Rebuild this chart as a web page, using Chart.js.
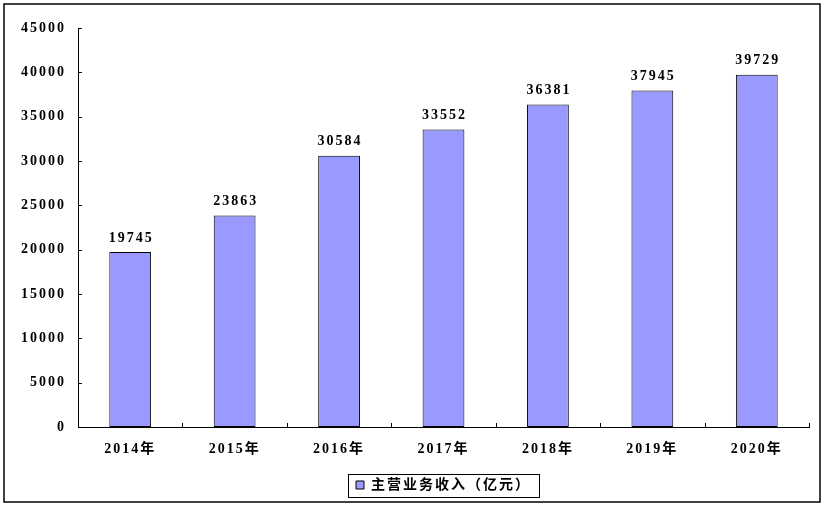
<!DOCTYPE html>
<html>
<head>
<meta charset="utf-8">
<script src="https://cdn.jsdelivr.net/npm/chart.js@4/dist/chart.umd.min.js"></script>
<style>
html, body { margin: 0; padding: 0; background: #fff; }
#wrap { width: 829px; height: 508px; }
</style>
</head>
<body>
<div id="wrap"><canvas id="barchart"></canvas></div>
<script>
const YEARS = ["2014年", "2015年", "2016年", "2017年", "2018年", "2019年", "2020年"];
const REVENUE = [19745, 23863, 30584, 33552, 36381, 37945, 39729];
const SERIES_NAME = "主营业务收入（亿元）";
const Y_MAX = 45000;
const Y_STEP = 5000;

const FONT = { family: "'Liberation Serif', 'Noto Sans CJK SC', serif", size: 14, weight: 'bold' };
Chart.defaults.font = FONT;
Chart.defaults.color = '#000';

// wide character spacing like the original
const spacing = {
    id: 'spacing',
    beforeUpdate(chart) { chart.ctx.letterSpacing = '2px'; },
    beforeDraw(chart) { chart.ctx.letterSpacing = '2px'; }
};

// value above each bar
const valueLabels = {
    id: 'valueLabels',
    afterDatasetsDraw(chart) {
        const ctx = chart.ctx;
        const meta = chart.getDatasetMeta(0);
        ctx.save();
        ctx.font = "bold 14px 'Liberation Serif', serif";
        ctx.fillStyle = '#000';
        ctx.textAlign = 'center';
        ctx.textBaseline = 'middle';
        meta.data.forEach((bar, i) => {
            ctx.fillText(String(REVENUE[i]), bar.x + 1, bar.y - 14);
        });
        ctx.restore();
    }
};

// inward tick marks, legend frame and outer frame
const frames = {
    id: 'frames',
    afterDraw(chart) {
        const ctx = chart.ctx;
        const x = chart.scales.x, y = chart.scales.y;
        const area = chart.chartArea;
        ctx.save();
        ctx.strokeStyle = '#000';
        ctx.lineWidth = 1;
        ctx.beginPath();
        for (let v = Y_STEP; v <= Y_MAX; v += Y_STEP) {
            const py = Math.round(y.getPixelForValue(v)) + 0.5;
            ctx.moveTo(area.left, py);
            ctx.lineTo(area.left + 4, py);
        }
        for (let i = 0; i <= YEARS.length; i++) {
            const px = Math.round(x.getPixelForValue(i - 0.5)) + 0.5;
            ctx.moveTo(px, area.bottom);
            ctx.lineTo(px, area.bottom - 4);
        }
        ctx.stroke();

        const hb = chart.legend.legendHitBoxes[0];
        if (hb) {
            const cx = hb.left + hb.width / 2;
            const cy = hb.top + hb.height / 2;
            const w = 191;
            ctx.strokeRect(Math.round(cx - w / 2) + 0.5, Math.round(cy - 11.5) + 0.5, w, 23);
        }

        ctx.lineWidth = 1.5;
        ctx.strokeRect(4, 4, 816, 498);
        ctx.restore();
    }
};

new Chart(document.getElementById('barchart'), {
    type: 'bar',
    data: {
        labels: YEARS,
        datasets: [{
            label: SERIES_NAME,
            data: REVENUE,
            backgroundColor: '#9999FF',
            borderColor: '#000',
            borderWidth: 1,
            borderSkipped: false,
            barPercentage: 0.4,
            categoryPercentage: 1.0
        }]
    },
    options: {
        responsive: true,
        maintainAspectRatio: false,
        animation: false,
        events: [],
        layout: { padding: { top: 28, left: 0, right: 20, bottom: 6 } },
        scales: {
            x: {
                grid: { display: false, drawTicks: false },
                border: { display: true, color: '#000', width: 1 },
                ticks: { padding: 14, font: FONT, color: '#000' },
                afterFit(scale) { scale.height = 46; }
            },
            y: {
                min: 0,
                max: Y_MAX,
                grid: { display: false, drawTicks: false },
                border: { display: true, color: '#000', width: 1 },
                ticks: {
                    stepSize: Y_STEP,
                    padding: 12,
                    font: FONT,
                    color: '#000',
                    callback: v => String(v)
                },
                afterFit(scale) { scale.width = 78; }
            }
        },
        plugins: {
            legend: {
                position: 'bottom',
                fullSize: false,
                labels: {
                    boxWidth: 8,
                    boxHeight: 8,
                    padding: 5,
                    color: '#000',
                    font: FONT
                }
            },
            tooltip: { enabled: false }
        }
    },
    plugins: [spacing, valueLabels, frames]
});
</script>
</body>
</html>
